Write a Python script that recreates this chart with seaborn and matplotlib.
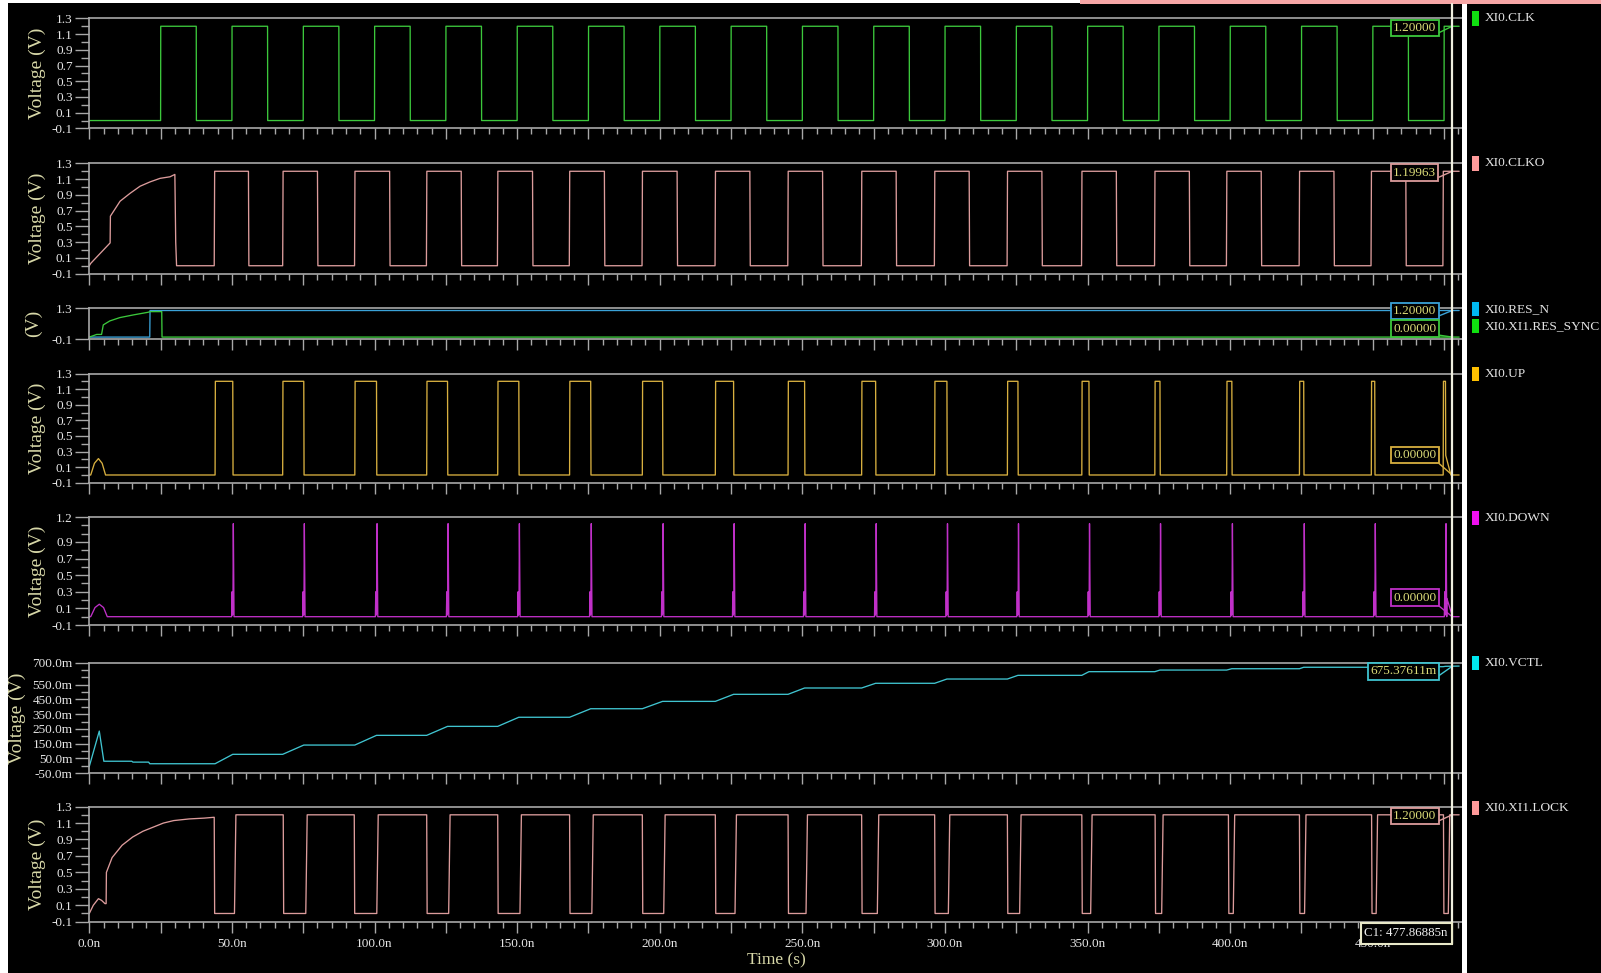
import matplotlib
matplotlib.use("Agg")
import numpy as np
import pandas as pd
import matplotlib.pyplot as plt
from matplotlib.patches import Rectangle
from matplotlib.lines import Line2D
from matplotlib.ticker import FixedLocator, FixedFormatter, MultipleLocator
import seaborn as sns

sns.set_style("ticks")
plt.rcParams["font.family"] = ["Liberation Serif", "DejaVu Serif"]

W, H = 1601, 973
T_END = 480.3          # ns, last simulated sample
X_MAX = 481.3          # ns, right edge of the waveform window
CURSOR_T = 477.86885   # ns, cursor C1

# ---------------- waveform data (time in ns) ----------------
CLK_RISE = [25.0, 50.0, 75.0, 100.0, 125.0, 150.0, 175.0, 200.0, 225.0, 250.0,
            275.0, 300.0, 325.0, 350.0, 375.0, 400.0, 425.0, 450.0, 475.0]
CLK_FALL = [37.5, 62.5, 87.5, 112.5, 137.5, 162.5, 187.5, 212.5, 237.5, 262.5,
            287.5, 312.5, 337.5, 362.5, 387.5, 412.5, 437.5, 462.5]

CLKO_INIT_T = [0.0, 0.5, 7.3, 7.4, 10.8, 14.3, 17.8, 21.3, 24.8, 28.3, 30.0, 30.3, 30.6]
CLKO_INIT_V = [0.0, 0.03, 0.29, 0.63, 0.82, 0.92, 1.01, 1.065, 1.11, 1.13, 1.16, 0.3, 0.0]
CLKO_RISE = [43.8, 67.8, 93.0, 118.2, 143.1, 168.3, 193.8, 219.4, 244.9, 270.7,
             296.3, 321.8, 347.9, 373.5, 398.7, 424.2, 449.4, 474.6]
CLKO_FALL = [55.8, 80.0, 105.3, 130.4, 155.4, 180.6, 206.1, 231.6, 257.1, 282.9,
             308.5, 334.0, 360.1, 385.7, 410.9, 436.4, 461.6]

RES_N_T = [0.0, 21.2, 21.3, 480.3]
RES_N_V = [0.0, 0.0, 1.2, 1.2]
RES_SYNC_T = [0.0, 2.6, 4.3, 4.9, 7.2, 10.7, 15.4, 20.6, 21.3, 25.4, 25.5, 480.3]
RES_SYNC_V = [0.0, 0.12, 0.12, 0.55, 0.73, 0.88, 1.0, 1.12, 1.15, 1.15, 0.0, 0.0]

UP_INIT_T = [0.0, 0.5, 1.8, 3.2, 4.5, 5.7, 6.0]
UP_INIT_V = [0.0, 0.0, 0.15, 0.21, 0.15, 0.0, 0.0]
UP_RISE = [44.1, 67.8, 93.1, 118.3, 143.2, 168.4, 193.9, 219.5, 245.0, 270.8,
           296.4, 321.9, 348.0, 373.6, 398.8, 424.3, 449.5, 474.7]
UP_FALL = [50.3, 75.2, 100.7, 125.6, 150.6, 175.8, 201.0, 225.9, 250.8, 275.7,
           300.7, 325.6, 350.5, 375.4, 400.6, 425.8, 450.7]
UP_TAIL_T = [475.5, 475.6]
UP_TAIL_V = [0.25, 0.0]
UP_TAIL_DUR = [0.1, 1.8]

DOWN_INIT_T = [0.0, 0.5, 2.0, 3.5, 5.0, 6.3, 7.0]
DOWN_INIT_V = [0.0, 0.0, 0.11, 0.15, 0.11, 0.0, 0.0]
DOWN_SPIKE_T = [50.5, 75.4, 100.9, 125.8, 150.8, 176.0, 201.2, 226.1, 251.0, 275.9,
                300.9, 325.8, 350.7, 375.6, 400.8, 426.0, 450.9, 475.7]
SPIKE_DT = [-0.6, -0.45, -0.3, -0.15, 0.0, 0.25]
SPIKE_V = [0.0, 0.3, 0.02, 0.05, 1.12, 0.0]
DOWN_TAIL_DT = [0.3, 2.3]
DOWN_TAIL_V = [0.22, 0.0]

VCTL_T = [0.0, 3.5, 5.1, 14.9, 15.3, 20.8, 21.2, 44.1, 50.3, 67.8, 75.2, 93.1, 100.7,
          118.3, 125.6, 143.2, 150.6, 168.4, 175.8, 193.9, 201.0, 219.5, 225.9,
          245.0, 250.8, 270.8, 275.7, 296.4, 300.7, 321.9, 325.6, 348.0, 350.5,
          373.6, 375.4, 398.8, 400.6, 424.3, 425.8, 449.5, 450.7, 474.7, 475.5, 480.3]
VCTL_MV = [-5, 235, 30, 30, 24, 24, 13, 13, 77, 77, 140, 140, 206, 206, 267, 267,
           329, 329, 387, 387, 437, 437, 485, 485, 528, 528, 560, 560, 589, 589,
           614, 614, 639, 639, 650, 650, 659, 659, 669, 669, 673, 673, 675.4, 677]

LOCK_INIT_T = [0.0, 1.4, 3.2, 4.3, 5.5, 5.9, 6.0, 8.0, 11.5, 15.2, 18.8, 22.4, 26.0,
               29.6, 35.0, 40.3, 43.7]
LOCK_INIT_V = [0.0, 0.10, 0.18, 0.16, 0.12, 0.12, 0.50, 0.68, 0.83, 0.93, 1.00,
               1.05, 1.10, 1.13, 1.15, 1.16, 1.17]
LOCK_FALL = [43.8, 68.0, 92.9, 118.3, 143.2, 168.4, 193.9, 219.5, 245.0, 270.8,
             296.4, 321.9, 348.0, 373.7, 399.4, 424.3, 449.6, 474.8]
LOCK_RISE = [50.9, 75.9, 100.8, 126.0, 151.0, 176.2, 201.4, 226.4, 251.3, 276.3,
             301.2, 326.2, 351.1, 376.0, 401.1, 426.1, 451.2, 476.5]

HIGH = 1.2
LOW = 0.0

# x axis labels
X_TICKS = [0, 50, 100, 150, 200, 250, 300, 350, 400, 450]
X_TICK_LABELS = ["0.0n", "50.0n", "100.0n", "150.0n", "200.0n", "250.0n",
                 "300.0n", "350.0n", "400.0n", "450.0n"]

# cursor read-outs
CLK_VAL, CLKO_VAL, RES_N_VAL, RES_SYNC_VAL = 1.2, 1.19963, 1.2, 0.0
UP_VAL, DOWN_VAL, VCTL_VAL, LOCK_VAL = 0.0, 0.0, 675.37611, 1.2


def wave(prefix_t, prefix_v, events, t_end):
    """Piecewise-linear trace: a prefix, then (time, new level, transition) events."""
    ts, vs = list(prefix_t), list(prefix_v)
    cur = vs[-1]
    for te, newv, dur in sorted(events):
        ts += [te, te + dur]
        vs += [cur, newv]
        cur = newv
    ts.append(t_end)
    vs.append(cur)
    return pd.DataFrame({"t": ts, "v": vs})


clk_df = wave([0.0], [LOW],
              [(r, HIGH, 0.05) for r in CLK_RISE] + [(f, LOW, 0.05) for f in CLK_FALL], T_END)
clko_df = wave(CLKO_INIT_T, CLKO_INIT_V,
               [(r, HIGH, 0.15) for r in CLKO_RISE] + [(f, LOW, 0.15) for f in CLKO_FALL], T_END)
res_n_df = pd.DataFrame({"t": RES_N_T, "v": RES_N_V})
res_sync_df = pd.DataFrame({"t": RES_SYNC_T, "v": RES_SYNC_V})
up_events = ([(r, HIGH, 0.1) for r in UP_RISE] + [(f, LOW, 0.1) for f in UP_FALL]
             + list(zip(UP_TAIL_T, UP_TAIL_V, UP_TAIL_DUR)))
up_df = wave(UP_INIT_T, UP_INIT_V, up_events, T_END)

down_t, down_v = list(DOWN_INIT_T), list(DOWN_INIT_V)
for ts in DOWN_SPIKE_T:
    down_t += [ts + d for d in SPIKE_DT]
    down_v += SPIKE_V
down_t += [DOWN_SPIKE_T[-1] + d for d in DOWN_TAIL_DT] + [T_END]
down_v += DOWN_TAIL_V + [0.0]
down_df = pd.DataFrame({"t": down_t, "v": down_v})

vctl_df = pd.DataFrame({"t": VCTL_T, "v": VCTL_MV})
lock_df = wave(LOCK_INIT_T, LOCK_INIT_V,
               [(f, LOW, 0.15) for f in LOCK_FALL] + [(r, HIGH, 0.5) for r in LOCK_RISE], T_END)

# ---------------- styling ----------------
C_CLK = "#3cc83c"
C_CLKO = "#dc9c9c"
C_RESN = "#3aa2d8"
C_RESS = "#3cc83c"
C_UP = "#d8b040"
C_DOWN = "#c030c8"
C_VCTL = "#40c4d0"
C_LOCK = "#dc9c9c"

AXIS_GREY = "#a8a8a8"
TICK_TXT = "#e6e6e6"
LABEL_KHAKI = "#d8d8a8"
VALUE_TXT = "#dcdc78"

STD_T = [1.3, 1.1, 0.9, 0.7, 0.5, 0.3, 0.1, -0.1]
STD_L = ["1.3", "1.1", "0.9", "0.7", "0.5", "0.3", "0.1", "-0.1"]
STD_M = [1.2, 1.0, 0.8, 0.6, 0.4, 0.2, 0.0]

panels = [
    dict(top=18.4, bot=128.4, ylim=(-0.1, 1.3), yt=STD_T, yl=STD_L, ym=STD_M,
         ylabel="Voltage (V)", ylx=37,
         traces=[(clk_df, C_CLK)],
         boxes=[("1.20000", CLK_VAL, C_CLK, 1393, 28)],
         legend=[("XI0.CLK", "#10e010", 18.3)]),
    dict(top=163.4, bot=273.6, ylim=(-0.1, 1.3), yt=STD_T, yl=STD_L, ym=STD_M,
         ylabel="Voltage (V)", ylx=37,
         traces=[(clko_df, C_CLKO)],
         boxes=[("1.19963", CLKO_VAL, C_CLKO, 1393, 172.5)],
         legend=[("XI0.CLKO", "#ff9a9a", 163.4)]),
    dict(top=308.3, bot=339.3, ylim=(-0.1, 1.3), yt=[1.3, -0.1], yl=["1.3", "-0.1"], ym=[],
         ylabel="(V)", ylx=33,
         traces=[(res_n_df, C_RESN), (res_sync_df, C_RESS)],
         boxes=[("1.20000", RES_N_VAL, C_RESN, 1393, 311),
                ("0.00000", RES_SYNC_VAL, C_RESS, 1393, 328.7)],
         legend=[("XI0.RES_N", "#00b8f0", 308.7), ("XI0.XI1.RES_SYNC", "#10e010", 326.3)]),
    dict(top=373.5, bot=482.8, ylim=(-0.1, 1.3), yt=STD_T, yl=STD_L, ym=STD_M,
         ylabel="Voltage (V)", ylx=37,
         traces=[(up_df, C_UP)],
         boxes=[("0.00000", UP_VAL, C_UP, 1393, 455)],
         legend=[("XI0.UP", "#ffc000", 374)]),
    dict(top=517.0, bot=625.0, ylim=(-0.1, 1.2),
         yt=[1.2, 0.9, 0.7, 0.5, 0.3, 0.1, -0.1],
         yl=["1.2", "0.9", "0.7", "0.5", "0.3", "0.1", "-0.1"],
         ym=[1.1, 1.0, 0.8, 0.6, 0.4, 0.2, 0.0],
         ylabel="Voltage (V)", ylx=37,
         traces=[(down_df, C_DOWN)],
         boxes=[("0.00000", DOWN_VAL, C_DOWN, 1393, 597.7)],
         legend=[("XI0.DOWN", "#f010f0", 517.8)]),
    dict(top=662.7, bot=773.0, ylim=(-50, 700),
         yt=[700, 550, 450, 350, 250, 150, 50, -50],
         yl=["700.0m", "550.0m", "450.0m", "350.0m", "250.0m", "150.0m", "50.0m", "-50.0m"],
         ym=[650, 600, 500, 400, 300, 200, 100, 0],
         ylabel="Voltage (V)", ylx=17,
         traces=[(vctl_df, C_VCTL)],
         boxes=[("675.37611m", VCTL_VAL, C_VCTL, 1370, 671.5)],
         legend=[("XI0.VCTL", "#00e8f0", 662.8)]),
    dict(top=806.6, bot=921.7, ylim=(-0.1, 1.3), yt=STD_T, yl=STD_L, ym=STD_M,
         ylabel="Voltage (V)", ylx=37,
         traces=[(lock_df, C_LOCK)],
         boxes=[("1.20000", LOCK_VAL, C_LOCK, 1393, 816)],
         legend=[("XI0.XI1.LOCK", "#ff9a9a", 807.6)]),
]

fig = plt.figure(figsize=(W / 100, H / 100), dpi=100, facecolor="black")

X0_PX, X1_PX = 89.3, 1462.0
major_x = [0, 25, 50, 75, 100, 125, 150, 175, 200, 225, 250, 275, 300, 325, 350,
           375, 400, 425, 450, 475]

for i, p in enumerate(panels):
    last = i == len(panels) - 1
    ax = fig.add_axes([X0_PX / W, 1 - p["bot"] / H, (X1_PX - X0_PX) / W,
                       (p["bot"] - p["top"]) / H])
    ax.set_facecolor("black")
    for df, col in p["traces"]:
        sns.lineplot(data=df, x="t", y="v", ax=ax, color=col, lw=0.95,
                     estimator=None, sort=False, legend=False)
    ax.set_xlim(0, X_MAX)
    ax.set_ylim(*p["ylim"])
    ax.set_xlabel("")
    ax.set_ylabel("")

    for side in ("left", "bottom", "top"):
        ax.spines[side].set_color(AXIS_GREY)
        ax.spines[side].set_linewidth(1.2)
    ax.spines["right"].set_visible(False)

    ax.yaxis.set_major_locator(FixedLocator(p["yt"]))
    ax.yaxis.set_major_formatter(FixedFormatter(p["yl"]))
    ax.yaxis.set_minor_locator(FixedLocator(p["ym"]))

    ax.xaxis.set_major_locator(FixedLocator(major_x))
    ax.xaxis.set_minor_locator(MultipleLocator(5))
    if last:
        lab_map = dict(zip(X_TICKS, X_TICK_LABELS))
        ax.xaxis.set_major_formatter(FixedFormatter([lab_map.get(t, "") for t in major_x]))
    else:
        ax.xaxis.set_major_formatter(FixedFormatter([""] * len(major_x)))

    ax.tick_params(axis="both", which="both", direction="out", color=AXIS_GREY,
                   labelcolor=TICK_TXT, labelsize=9.5, width=1.0)
    ax.tick_params(axis="y", which="major", length=10, pad=2)
    ax.tick_params(axis="y", which="minor", length=6)
    ax.tick_params(axis="x", which="major", length=8, pad=4)
    ax.tick_params(axis="x", which="minor", length=4)

    ymid = (p["top"] + p["bot"]) / 2
    fig.text(p["ylx"] / W, 1 - ymid / H, p["ylabel"], rotation=90, ha="center",
             va="center", color=LABEL_KHAKI, fontsize=14)

    for txt, val, col, xl, yc in p["boxes"]:
        ax.annotate(txt, xy=(CURSOR_T, val), xycoords="data",
                    xytext=(xl, H - yc), textcoords="figure pixels",
                    ha="left", va="center", color=VALUE_TXT, fontsize=9.5,
                    bbox=dict(boxstyle="square,pad=0.18", fc="black", ec=col, lw=1.3),
                    arrowprops=dict(arrowstyle="-", color=col, lw=1.0, shrinkA=0,
                                    shrinkB=0, relpos=(1, 0)),
                    annotation_clip=False, zorder=5)

    for name, col, yc in p["legend"]:
        fig.patches.append(Rectangle(((1471.7) / W, 1 - (yc + 7.2) / H), 7.6 / W, 14.3 / H,
                                     transform=fig.transFigure, fc=col, ec="none", zorder=6))
        fig.text(1485 / W, 1 - yc / H, name, ha="left", va="center", color="#e4e4e4",
                 fontsize=9.6)

fig.text(776 / W, 1 - 960 / H, "Time (s)", ha="center", va="center",
         color=LABEL_KHAKI, fontsize=12.5)

# frame decorations: left border, top strip, separator, cursor
fig.patches.append(Rectangle((0, 0), 8 / W, 1, transform=fig.transFigure,
                             fc="white", ec="none", zorder=8))
fig.patches.append(Rectangle((0, 1 - 3.3 / H), 1080 / W, 3.3 / H, transform=fig.transFigure,
                             fc="white", ec="none", zorder=8))
fig.patches.append(Rectangle((1080 / W, 1 - 4 / H), (W - 1080) / W, 4 / H,
                             transform=fig.transFigure, fc="#f6a6a6", ec="none", zorder=8))
fig.patches.append(Rectangle((1462.3 / W, 0), 4.4 / W, 1 - 4 / H, transform=fig.transFigure,
                             fc="white", ec="none", zorder=8))
fig.lines.append(Line2D([1451.7 / W, 1451.7 / W], [1 - 944 / H, 1 - 4 / H],
                        transform=fig.transFigure, color="#f0f0e0", lw=1.6, zorder=9))

# cursor read-out box
fig.patches.append(Rectangle((1360.7 / W, 1 - 944 / H), 91 / W, 21.3 / H,
                             transform=fig.transFigure, fc="black", ec="#e8e8c8",
                             lw=1.5, zorder=10))
fig.text(1363.5 / W, 1 - 933.3 / H, "C1: %.5fn" % CURSOR_T, ha="left", va="center",
         color="#f0f0f0", fontsize=9.4, zorder=11)

fig.savefig("out.png", dpi=100, facecolor="black")
